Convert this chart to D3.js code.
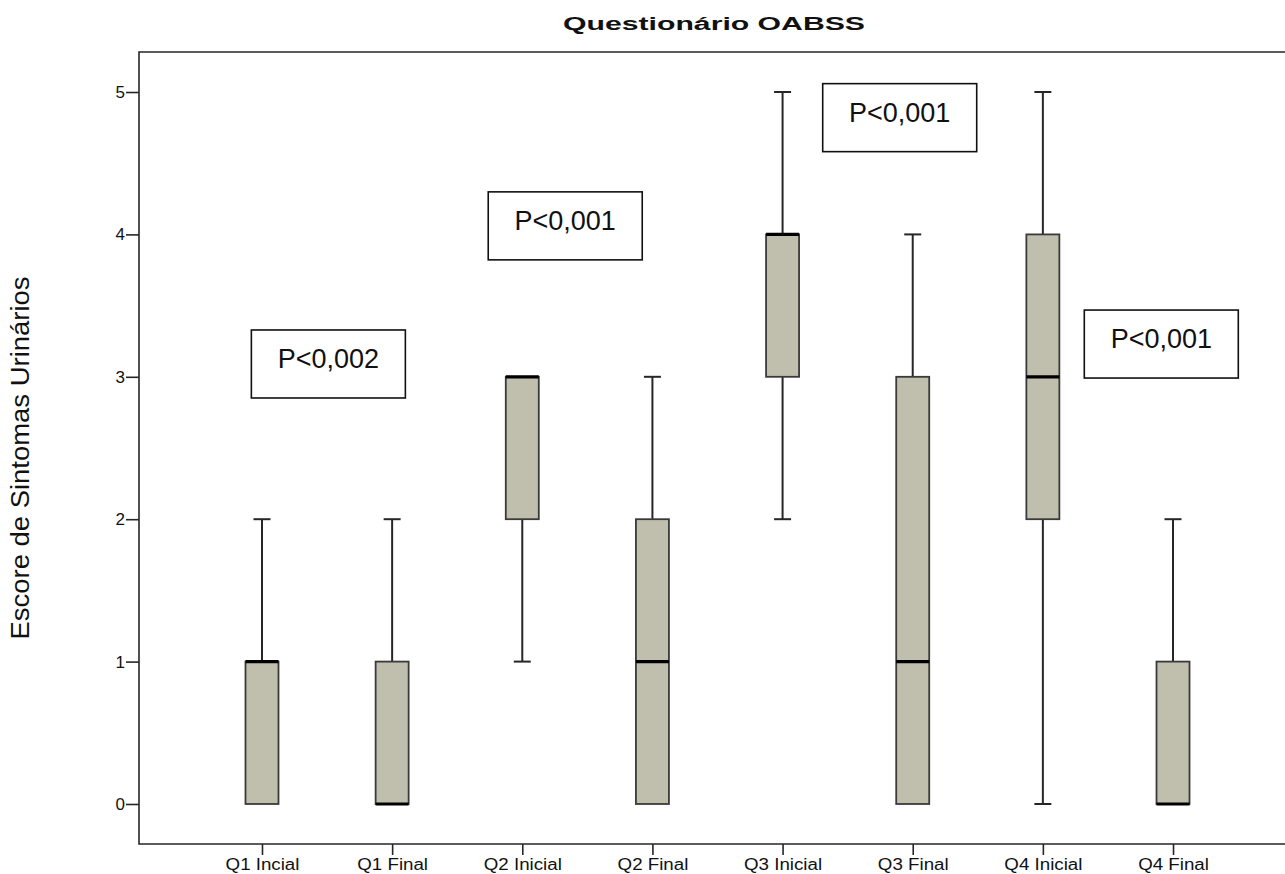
<!DOCTYPE html>
<html>
<head>
<meta charset="utf-8">
<script src="https://cdn.jsdelivr.net/npm/d3@7"></script>
<style>
  html, body { margin: 0; padding: 0; background: #fff; }
  svg { display: block; font-family: Arial, "Liberation Sans", sans-serif; }
</style>
</head>
<body>
<svg id="chart" width="1285" height="874"></svg>
<script>
// Questionário OABSS — five-number summaries per question, initial vs final
const categories = ["Q1 Incial", "Q1 Final", "Q2 Inicial", "Q2 Final", "Q3 Inicial", "Q3 Final", "Q4 Inicial", "Q4 Final"];
const mins    = [0, 0, 1, 0, 2, 0, 0, 0];
const q1s     = [0, 0, 2, 0, 3, 0, 2, 0];
const medians = [1, 0, 3, 1, 4, 1, 3, 0];
const q3s     = [1, 1, 3, 2, 4, 3, 4, 1];
const maxs    = [2, 2, 3, 3, 5, 4, 5, 2];
const yTicks  = [0, 1, 2, 3, 4, 5];

// p-value labels: position along category axis (index) and score level
const pLabels = ["P<0,002", "P<0,001", "P<0,001", "P<0,001"];
const pPos    = [0.51, 2.33, 4.9, 6.91];
const pLevel  = [3.09, 4.06, 4.82, 3.23];

const svg = d3.select("#chart");
const plotLeft = 139, plotTop = 52, plotBottom = 844, plotRight = 1296;

const x = d3.scalePoint().domain(categories).range([plotLeft, plotRight]).padding(0.945);
const y = d3.scaleLinear().domain([-0.281, 5.281]).range([plotBottom, plotTop]);
const xi = d3.scaleLinear().domain([0, categories.length - 1])
  .range([x(categories[0]), x(categories[categories.length - 1])]);

const boxW = 33, capW = 17;
const ink = "#262626";

// title
svg.append("text")
  .attr("x", 714).attr("y", 30)
  .attr("text-anchor", "middle")
  .attr("font-size", 18).attr("font-weight", "bold")
  .attr("fill", "#111")
  .attr("textLength", 302).attr("lengthAdjust", "spacingAndGlyphs")
  .text("Questionário OABSS");

// y-axis title
svg.append("text")
  .attr("transform", "translate(29,458) rotate(-90)")
  .attr("text-anchor", "middle")
  .attr("font-size", 25)
  .attr("fill", "#111")
  .attr("textLength", 363).attr("lengthAdjust", "spacingAndGlyphs")
  .text("Escore de Sintomas Urinários");

// frame (open on the right)
svg.append("path")
  .attr("d", `M${plotRight},${plotTop}H${plotLeft}V${plotBottom}H${plotRight}`)
  .attr("fill", "none").attr("stroke", ink).attr("stroke-width", 1.6);

// y axis
const yAxis = svg.append("g")
  .attr("transform", `translate(${plotLeft},0)`)
  .call(d3.axisLeft(y).tickValues(yTicks).tickSize(13).tickPadding(1).tickFormat(d3.format("d")));
yAxis.select(".domain").remove();
yAxis.selectAll(".tick line").attr("stroke", ink).attr("stroke-width", 1.6);
yAxis.selectAll(".tick text").attr("font-size", 17).attr("fill", "#111")
  .attr("font-family", "Arial, 'Liberation Sans', sans-serif");

// x axis
const xAxis = svg.append("g")
  .attr("transform", `translate(0,${plotBottom})`)
  .call(d3.axisBottom(x).tickSize(11).tickPadding(4));
xAxis.select(".domain").remove();
xAxis.selectAll(".tick line").attr("stroke", ink).attr("stroke-width", 1.6);
xAxis.selectAll(".tick text").attr("font-size", 16).attr("fill", "#111")
  .attr("font-family", "Arial, 'Liberation Sans', sans-serif")
  .each(function () {
    const w = this.getComputedTextLength();
    d3.select(this).attr("textLength", w * 1.17).attr("lengthAdjust", "spacingAndGlyphs");
  });

// box plots
const g = svg.append("g");
categories.forEach((c, i) => {
  const cx = x(c);
  const bg = g.append("g");
  // whiskers
  if (maxs[i] > q3s[i]) {
    bg.append("line").attr("x1", cx).attr("x2", cx).attr("y1", y(q3s[i])).attr("y2", y(maxs[i]))
      .attr("stroke", ink).attr("stroke-width", 2);
    bg.append("line").attr("x1", cx - capW / 2).attr("x2", cx + capW / 2).attr("y1", y(maxs[i])).attr("y2", y(maxs[i]))
      .attr("stroke", ink).attr("stroke-width", 2);
  }
  if (mins[i] < q1s[i]) {
    bg.append("line").attr("x1", cx).attr("x2", cx).attr("y1", y(q1s[i])).attr("y2", y(mins[i]))
      .attr("stroke", ink).attr("stroke-width", 2);
    bg.append("line").attr("x1", cx - capW / 2).attr("x2", cx + capW / 2).attr("y1", y(mins[i])).attr("y2", y(mins[i]))
      .attr("stroke", ink).attr("stroke-width", 2);
  }
  // box
  bg.append("rect")
    .attr("x", cx - boxW / 2).attr("width", boxW)
    .attr("y", y(q3s[i])).attr("height", y(q1s[i]) - y(q3s[i]))
    .attr("fill", "#c0bfad").attr("stroke", "#3a3a3a").attr("stroke-width", 1.8);
  // median
  bg.append("line").attr("x1", cx - boxW / 2).attr("x2", cx + boxW / 2)
    .attr("y1", y(medians[i])).attr("y2", y(medians[i]))
    .attr("stroke", "#000").attr("stroke-width", 3.2);
});

// p-value annotations
const pw = 154, ph = 68;
pLabels.forEach((t, i) => {
  const cx = xi(pPos[i]), cy = y(pLevel[i]);
  svg.append("rect")
    .attr("x", cx - pw / 2).attr("y", cy - ph / 2).attr("width", pw).attr("height", ph)
    .attr("fill", "#fff").attr("stroke", "#111").attr("stroke-width", 1.6);
  svg.append("text")
    .attr("x", cx).attr("y", cy + 4)
    .attr("text-anchor", "middle")
    .attr("font-size", 27).attr("fill", "#111")
    .text(t);
});
</script>
</body>
</html>
